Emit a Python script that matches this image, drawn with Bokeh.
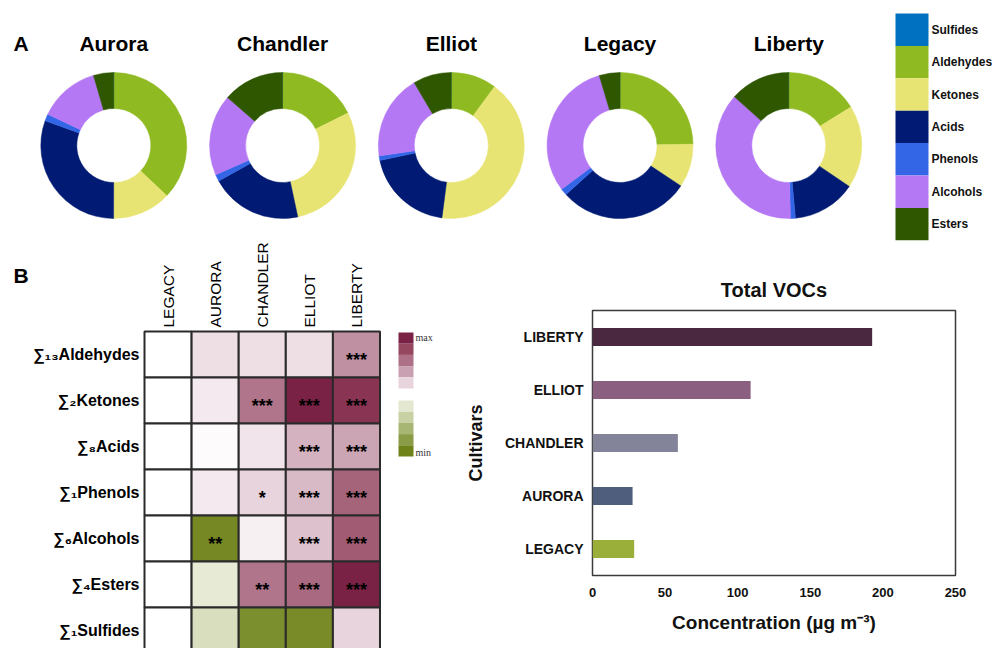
import numpy as np
from bokeh.plotting import figure
from bokeh.layouts import column, row
from bokeh.models import Range1d, FactorRange, LinearColorMapper, ColumnDataSource, SingleIntervalTicker
from bokeh.core.properties import value
from bokeh.embed import file_html
from bokeh.resources import INLINE

# ---------------- data ----------------
# Panel A: share (%) of each compound class in the VOC profile of each cultivar
pie_cultivars = ["Aurora", "Chandler", "Elliot", "Legacy", "Liberty"]
classes = ["Sulfides", "Aldehydes", "Ketones", "Acids", "Phenols", "Alcohols", "Esters"]
sulfides = [0.1, 0.1, 0.1, 0.1, 0.1]
aldehydes = [37.0, 17.6, 10.0, 24.6, 16.1]
ketones = [13.0, 29.0, 42.0, 9.6, 18.3]
acids = [30.5, 20.3, 19.7, 28.9, 14.1]
phenols = [1.5, 1.5, 1.0, 1.5, 1.1]
alcohols = [13.5, 18.0, 18.8, 30.6, 37.0]
esters = [4.5, 13.6, 8.5, 4.6, 13.4]

# Panel B: scaled change of each class sum relative to LEGACY (-1 = min, +1 = max)
heat_cultivars = ["LEGACY", "AURORA", "CHANDLER", "ELLIOT", "LIBERTY"]
heat_rows = ["∑₁₃Aldehydes", "∑₂Ketones", "∑₈Acids", "∑₁Phenols",
             "∑₆Alcohols", "∑₄Esters", "∑₁Sulfides"]
aldehydes_change = [0.0, 0.15, 0.15, 0.15, 0.47]
ketones_change = [0.0, 0.10, 0.58, 1.00, 0.90]
acids_change = [0.0, 0.02, 0.12, 0.33, 0.38]
phenols_change = [0.0, 0.10, 0.20, 0.30, 0.66]
alcohols_change = [0.0, -0.95, 0.07, 0.27, 0.70]
esters_change = [0.0, -0.18, 0.58, 0.63, 1.00]
sulfides_change = [0.0, -0.28, -0.90, -0.93, 0.20]
aldehydes_sig = ["", "", "", "", "***"]
ketones_sig = ["", "", "***", "***", "***"]
acids_sig = ["", "", "", "***", "***"]
phenols_sig = ["", "", "*", "***", "***"]
alcohols_sig = ["", "**", "", "***", "***"]
esters_sig = ["", "", "**", "***", "***"]
sulfides_sig = ["", "", "", "", ""]

# Total VOCs per cultivar (µg m-3)
bar_cultivars = ["LEGACY", "AURORA", "CHANDLER", "ELLIOT", "LIBERTY"]
total_vocs = [28.7, 27.6, 58.8, 108.9, 192.6]

# ---------------- styling ----------------
SANS = "Liberation Sans"
class_colors = ["#0070c0", "#8fba22", "#e8e474", "#011a73", "#3366e6", "#b578f5", "#2e5700"]
bar_colors = ["#9aaf3a", "#4f5e7c", "#838499", "#8a5f80", "#4a2840"]
maroon_steps = ["#7a2246", "#95475f", "#ad7087", "#c9a0b1", "#e8d4dd"]
green_steps = ["#e4e8d0", "#c8d1a4", "#a8b673", "#8a9c45", "#6e8219"]


def hex_rgb(h):
    return np.array([int(h[i:i + 2], 16) for i in (1, 3, 5)], dtype=float)


# diverging palette: min (green) -> white -> max (maroon)
anchor_pos = [-1.0, -0.8, -0.6, -0.4, -0.2, 0.0, 0.2, 0.4, 0.6, 0.8, 1.0]
anchor_col = green_steps[::-1] + ["#ffffff"] + maroon_steps[::-1]
anchor_rgb = np.array([hex_rgb(c) for c in anchor_col])
t = np.linspace(-1, 1, 201)
palette = []
for v in t:
    rgb = [np.interp(v, anchor_pos, anchor_rgb[:, j]) for j in range(3)]
    palette.append("#%02x%02x%02x" % tuple(int(round(c)) for c in rgb))
mapper = LinearColorMapper(palette=palette, low=-1, high=1)

# ---------------- panel A: donuts ----------------
W, H_TOP = 999, 241
top = figure(width=W, height=H_TOP, x_range=Range1d(0, W), y_range=Range1d(0, H_TOP),
             output_backend="svg", toolbar_location=None, x_axis_location=None,
             y_axis_location=None, min_border=0, outline_line_color=None)
top.grid.visible = False

series = [sulfides, aldehydes, ketones, acids, phenols, alcohols, esters]
cx0, dx, cy = 113.3, 168.75, H_TOP - 145
wx, wy, ws, we, wc = [], [], [], [], []
for i in range(len(pie_cultivars)):
    vals = np.array([s[i] for s in series], dtype=float)
    cum = np.cumsum(vals) / vals.sum()
    prev = np.concatenate([[0.0], cum[:-1]])
    for k in range(len(classes)):
        wx.append(cx0 + i * dx)
        wy.append(cy)
        ws.append(np.pi / 2 - 2 * np.pi * prev[k])
        we.append(np.pi / 2 - 2 * np.pi * cum[k])
        wc.append(class_colors[k])
top.annular_wedge(x="x", y="y", inner_radius=37, outer_radius=73,
                  inner_radius_units="screen", outer_radius_units="screen",
                  start_angle="s", end_angle="e", direction="clock",
                  fill_color="c", line_color="c", line_width=0.5,
                  source=ColumnDataSource(dict(x=wx, y=wy, s=ws, e=we, c=wc)))

top.text(x=[cx0 + i * dx for i in range(len(pie_cultivars))], y=[H_TOP - 43] * len(pie_cultivars),
         text=pie_cultivars, text_align="center", text_baseline="middle",
         text_font=value(SANS), text_font_style="bold", text_font_size="21px", text_color="#000000")
top.text(x=[13], y=[H_TOP - 43], text=["A"], text_align="left", text_baseline="middle",
         text_font=value(SANS), text_font_style="bold", text_font_size="21px", text_color="#000000")

# legend of compound classes
sw_h = 32.4
leg_y = [H_TOP - (13 + sw_h * (k + 0.5)) for k in range(len(classes))]
top.rect(x=[911.5] * len(classes), y=leg_y, width=33, height=sw_h,
         fill_color=class_colors, line_color=None)
top.text(x=[931] * len(classes), y=leg_y, text=classes, text_align="left", text_baseline="middle",
         text_font=value(SANS), text_font_style="bold", text_font_size="12px", text_color="#111111")

# ---------------- panel B: heatmap ----------------
HW, HH = 460, 648 - H_TOP
GX, GY, CW, CH = 144.0, 331.0 - H_TOP, 47.1, 46.0


def hx(px):
    return (px - GX) / CW


def hy(py):
    return -(py - GY) / CH


heat = figure(width=HW, height=HH, x_range=Range1d(hx(0), hx(HW)), y_range=Range1d(hy(HH), hy(0)),
              output_backend="svg", toolbar_location=None, x_axis_location=None,
              y_axis_location=None, min_border=0, outline_line_color=None)
heat.grid.visible = False

change_rows = [aldehydes_change, ketones_change, acids_change, phenols_change,
               alcohols_change, esters_change, sulfides_change]
sig_rows = [aldehydes_sig, ketones_sig, acids_sig, phenols_sig,
            alcohols_sig, esters_sig, sulfides_sig]
cxs, cys, cvs, sts = [], [], [], []
for r in range(len(heat_rows)):
    for c in range(len(heat_cultivars)):
        cxs.append(c + 0.5)
        cys.append(-(r + 0.5))
        cvs.append(change_rows[r][c])
        sts.append(sig_rows[r][c])
hsrc = ColumnDataSource(dict(x=cxs, y=cys, v=cvs, s=sts))
heat.rect(x="x", y="y", width=1, height=1, source=hsrc,
          fill_color={"field": "v", "transform": mapper}, line_color="#2a2a2a", line_width=2)
heat.text(x="x", y="y", text="s", source=hsrc, text_align="center", text_baseline="middle",
          y_offset=5, text_font=value(SANS), text_font_style="bold", text_font_size="18px",
          text_color="#000000")

heat.text(x=[hx(139)] * len(heat_rows), y=[-(r + 0.5) for r in range(len(heat_rows))], text=heat_rows,
          text_align="right", text_baseline="middle", text_font=value(SANS),
          text_font_style="bold", text_font_size="16px", text_color="#000000")
heat.text(x=[c + 0.5 for c in range(len(heat_cultivars))], y=[hy(86)] * len(heat_cultivars),
          text=heat_cultivars, angle=np.pi / 2, text_align="left", text_baseline="middle",
          text_font=value(SANS), text_font_size="15.5px", text_color="#000000")
heat.text(x=[hx(13)], y=[hy(34)], text=["B"], text_align="left", text_baseline="middle",
          text_font=value(SANS), text_font_style="bold", text_font_size="21px", text_color="#000000")

# colour key
step = 11.2
key_x = hx(405.5)
key_w = 15 / CW
heat.rect(x=[key_x] * 5, y=[hy(91 + step * (k + 0.5)) for k in range(5)], width=key_w, height=step / CH,
          fill_color=maroon_steps, line_color=None)
heat.rect(x=[key_x] * 5, y=[hy(159 + step * (k + 0.5)) for k in range(5)], width=key_w, height=step / CH,
          fill_color=green_steps, line_color=None)
heat.text(x=[hx(415), hx(415)], y=[hy(96), hy(211)], text=["max", "min"], text_align="left",
          text_baseline="middle", text_font=value("Liberation Serif"), text_font_size="10px",
          text_color="#333333")

# ---------------- total VOCs bar chart ----------------
bar = figure(width=999 - HW, height=HH, y_range=FactorRange(*bar_cultivars), x_range=Range1d(0, 250),
             output_backend="svg", toolbar_location=None, min_border_left=132, min_border_right=44,
             min_border_top=69, min_border_bottom=73, title="Total VOCs")
bar.hbar(y=bar_cultivars, right=total_vocs, height=0.34, fill_color=bar_colors, line_color=None)
bar.grid.visible = False
bar.outline_line_color = "#3a3a3a"
bar.outline_line_width = 1.5
bar.title.align = "center"
bar.title.text_font = SANS
bar.title.text_font_size = "20px"
bar.title.text_font_style = "bold"
bar.title.text_color = "#111111"
bar.title.standoff = 20

bar.xaxis.ticker = SingleIntervalTicker(interval=50)
bar.xaxis.axis_label = "Concentration (µg m⁻³)"
bar.yaxis.axis_label = "Cultivars"
for ax in (bar.xaxis, bar.yaxis):
    ax.axis_line_color = None
    ax.major_tick_line_color = None
    ax.minor_tick_line_color = None
    ax.major_label_text_font = SANS
    ax.major_label_text_font_style = "bold"
    ax.major_label_text_color = "#111111"
    ax.axis_label_text_font = SANS
    ax.axis_label_text_font_style = "bold"
    ax.axis_label_text_color = "#111111"
bar.xaxis.major_label_text_font_size = "13px"
bar.xaxis.major_label_standoff = 6
bar.xaxis.axis_label_text_font_size = "19px"
bar.xaxis.axis_label_standoff = 12
bar.yaxis.major_label_text_font_size = "14px"
bar.yaxis.major_label_standoff = 3
bar.yaxis.axis_label_text_font_size = "18px"
bar.yaxis.axis_label_standoff = 16

# each plot sits in its own column so the row does not line up their frames
layout = column(top, row(column(heat), column(bar)))
open("out.html", "w").write(file_html(layout, INLINE))
